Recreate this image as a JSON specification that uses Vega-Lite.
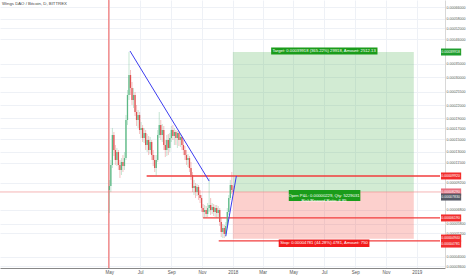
{
"$schema": "https://vega.github.io/schema/vega-lite/v6.json",
"width": 445, "height": 268,
"autosize": {"type": "none"},
"padding": {"left": 0, "top": 0, "right": 21, "bottom": 7},
"background": "white",
"title": {"text": "Wings DAO / Bitcoin, D, BITTREX", "anchor": "start", "frame": "group", "fontSize": 4.3, "fontWeight": "normal", "color": "#444", "offset": -7, "dx": 2, "font": "Liberation Sans"},
"config": {"view": {"stroke": null}, "font": "Liberation Sans"},
"datasets": {
"candles": [
{"date":"2017-05-01","open":8475,"high":9480,"low":6546,"close":8865},
{"date":"2017-05-04","open":8865,"high":11870,"low":8286,"close":11220},
{"date":"2017-05-07","open":11220,"high":17010,"low":10850,"close":15720},
{"date":"2017-05-10","open":15720,"high":16260,"low":12410,"close":13280},
{"date":"2017-05-13","open":13280,"high":14050,"low":11220,"close":11870},
{"date":"2017-05-16","open":11870,"high":13590,"low":11090,"close":12990},
{"date":"2017-05-19","open":12990,"high":13280,"low":10610,"close":11220},
{"date":"2017-05-22","open":11220,"high":11870,"low":9700,"close":10610},
{"date":"2017-05-25","open":10610,"high":12130,"low":10030,"close":11610},
{"date":"2017-05-28","open":11610,"high":12550,"low":10370,"close":11090},
{"date":"2017-05-31","open":11090,"high":12990,"low":10610,"close":12130},
{"date":"2017-06-03","open":12130,"high":19680,"low":11870,"close":18600},
{"date":"2017-06-06","open":18600,"high":26060,"low":17590,"close":24630},
{"date":"2017-06-09","open":24630,"high":39930,"low":23290,"close":30830},
{"date":"2017-06-12","open":30830,"high":32620,"low":24630,"close":26660},
{"date":"2017-06-15","open":26660,"high":28510,"low":22020,"close":23290},
{"date":"2017-06-18","open":23290,"high":26660,"low":21290,"close":24630},
{"date":"2017-06-21","open":24630,"high":25480,"low":19460,"close":20350},
{"date":"2017-06-24","open":20350,"high":22020,"low":17390,"close":18600},
{"date":"2017-06-27","open":18600,"high":20810,"low":17010,"close":19680},
{"date":"2017-06-30","open":19680,"high":20350,"low":15900,"close":16630},
{"date":"2017-07-03","open":16630,"high":18190,"low":15200,"close":17010},
{"date":"2017-07-06","open":17010,"high":17590,"low":14530,"close":15200},
{"date":"2017-07-09","open":15200,"high":17010,"low":14370,"close":16080},
{"date":"2017-07-12","open":16080,"high":16630,"low":13280,"close":14050},
{"date":"2017-07-15","open":14050,"high":15900,"low":12990,"close":14860},
{"date":"2017-07-18","open":14860,"high":15540,"low":12550,"close":13280},
{"date":"2017-07-21","open":13280,"high":15370,"low":12700,"close":14530},
{"date":"2017-07-24","open":14530,"high":14860,"low":11870,"close":12550},
{"date":"2017-07-27","open":12550,"high":13280,"low":11090,"close":11870},
{"date":"2017-07-30","open":11870,"high":12550,"low":10370,"close":10850},
{"date":"2017-08-02","open":10850,"high":12550,"low":9920,"close":11870},
{"date":"2017-08-05","open":11870,"high":16630,"low":11610,"close":15720},
{"date":"2017-08-08","open":15720,"high":20350,"low":15200,"close":17590},
{"date":"2017-08-11","open":17590,"high":18600,"low":14860,"close":15720},
{"date":"2017-08-14","open":15720,"high":17780,"low":14530,"close":16630},
{"date":"2017-08-17","open":16630,"high":17390,"low":13280,"close":14050},
{"date":"2017-08-20","open":14050,"high":14860,"low":12270,"close":13280},
{"date":"2017-08-23","open":13280,"high":15720,"low":12410,"close":14860},
{"date":"2017-08-26","open":14860,"high":15900,"low":12550,"close":13590},
{"date":"2017-08-29","open":13590,"high":16080,"low":12990,"close":15200},
{"date":"2017-09-01","open":15200,"high":17390,"low":14530,"close":16630},
{"date":"2017-09-04","open":16630,"high":17590,"low":14860,"close":15540},
{"date":"2017-09-07","open":15540,"high":17010,"low":14050,"close":16260},
{"date":"2017-09-10","open":16260,"high":16630,"low":14050,"close":15200},
{"date":"2017-09-13","open":15200,"high":16440,"low":13590,"close":16080},
{"date":"2017-09-16","open":16080,"high":16440,"low":13890,"close":14860},
{"date":"2017-09-19","open":14860,"high":15900,"low":13740,"close":15370},
{"date":"2017-09-22","open":15370,"high":15540,"low":13280,"close":14050},
{"date":"2017-09-25","open":14050,"high":14860,"low":12550,"close":13280},
{"date":"2017-09-28","open":13280,"high":13890,"low":11870,"close":12550},
{"date":"2017-10-01","open":12550,"high":13280,"low":11220,"close":11870},
{"date":"2017-10-04","open":11870,"high":12700,"low":10970,"close":12130},
{"date":"2017-10-07","open":12130,"high":12410,"low":10370,"close":10850},
{"date":"2017-10-10","open":10850,"high":11610,"low":9480,"close":10030},
{"date":"2017-10-13","open":10030,"high":10370,"low":8290,"close":8670},
{"date":"2017-10-16","open":8670,"high":9480,"low":8010,"close":8865},
{"date":"2017-10-19","open":8865,"high":9170,"low":7745,"close":8290},
{"date":"2017-10-22","open":8290,"high":9060,"low":7920,"close":8770},
{"date":"2017-10-25","open":8770,"high":8965,"low":7575,"close":8010},
{"date":"2017-10-28","open":8010,"high":8475,"low":7320,"close":7745},
{"date":"2017-10-31","open":7745,"high":8010,"low":6620,"close":6920},
{"date":"2017-11-03","open":6920,"high":7240,"low":6190,"close":6620},
{"date":"2017-11-06","open":6620,"high":7160,"low":6190,"close":6770},
{"date":"2017-11-09","open":6770,"high":7080,"low":6190,"close":6470},
{"date":"2017-11-12","open":6470,"high":7320,"low":6260,"close":6920},
{"date":"2017-11-15","open":6920,"high":9700,"low":6620,"close":7160},
{"date":"2017-11-18","open":7160,"high":7745,"low":6400,"close":6770},
{"date":"2017-11-21","open":6770,"high":7320,"low":6470,"close":7000},
{"date":"2017-11-24","open":7000,"high":7240,"low":6330,"close":6620},
{"date":"2017-11-27","open":6620,"high":7160,"low":6260,"close":6920},
{"date":"2017-11-30","open":6920,"high":7160,"low":6190,"close":6550},
{"date":"2017-12-03","open":6550,"high":7080,"low":6190,"close":6770},
{"date":"2017-12-06","open":6770,"high":6920,"low":5660,"close":5920},
{"date":"2017-12-09","open":5920,"high":6190,"low":5000,"close":5290},
{"date":"2017-12-12","open":5290,"high":5780,"low":4940,"close":5530},
{"date":"2017-12-15","open":5530,"high":5720,"low":4940,"close":5170},
{"date":"2017-12-18","open":5170,"high":5920,"low":5000,"close":5660},
{"date":"2017-12-21","open":5660,"high":6920,"low":5530,"close":6620},
{"date":"2017-12-24","open":6620,"high":8010,"low":6400,"close":7745},
{"date":"2017-12-27","open":7745,"high":9480,"low":7575,"close":8965},
{"date":"2017-12-30","open":8965,"high":10370,"low":8100,"close":8475},
{"date":"2018-01-02","open":8475,"high":8865,"low":8010,"close":8290}
],
"boxes": [
{"kind":"profit","start":"2018-01-01","end":"2018-12-26","top":39918,"bottom":8290},
{"kind":"loss","start":"2018-01-01","end":"2018-12-26","top":8290,"bottom":4900}
],
"levels": [
{"start":"2017-07-14","end":"2019-02-16","price":9920},
{"start":"2017-11-03","end":"2019-02-16","price":6190},
{"start":"2017-12-04","end":"2019-02-16","price":4781}
],
"trend": [
{"id":1,"date":"2017-06-11","price":40380},
{"id":1,"date":"2017-11-15","price":9370},
{"id":2,"date":"2017-12-18","price":5050},
{"id":2,"date":"2018-01-08","price":9920}
],
"labels": [
{"kind":"target","start":"2018-03-18","end":"2018-10-15","mid":"2018-07-01","top":41990,"bottom":38820,"price":40370,"text":"Target: 0.00039918 (365.22%) 29918, Amount: 2512.13"},
{"kind":"open","start":"2018-04-22","end":"2018-09-11","mid":"2018-07-01","top":8475,"bottom":7490,"price":7965,"text":"Open P&L: 0.00000229, Qty: 5229031\nRisk/Reward Ratio: 6.85"},
{"kind":"stop","start":"2018-04-02","end":"2018-09-29","mid":"2018-07-01","top":4857,"bottom":4465,"price":4660,"text":"Stop: 0.00004781 (44.28%) 4781, Amount: 750"}
],
"tags": [
{"kind":"target","price":39918,"label":"0.00039918"},
{"kind":"level","price":9920,"label":"0.00009920"},
{"kind":"last","price":8290,"label":"0.00008290"},
{"kind":"entry","price":7830,"label":"0.00007830"},
{"kind":"level","price":6190,"label":"0.00006190"},
{"kind":"level","price":4940,"label":"0.00004940"},
{"kind":"level","price":4618,"label":"0.00004781"}
]
},
"resolve": {"scale": {"color": "independent"}},
"layer": [
{
"data": {"name": "boxes"},
"mark": {"type": "rect", "opacity": 0.25},
"encoding": {
"x": {"field": "start", "type": "temporal", "title": null,
 "scale": {"type": "utc", "domain": [{"year":2016,"month":10,"date":6,"utc":true},{"year":2019,"month":2,"date":16,"utc":true}]},
 "axis": {"values": [{"year":2017,"month":5,"date":1,"utc":true},{"year":2017,"month":7,"date":1,"utc":true},{"year":2017,"month":9,"date":1,"utc":true},{"year":2017,"month":11,"date":1,"utc":true},{"year":2018,"month":1,"date":1,"utc":true},{"year":2018,"month":3,"date":1,"utc":true},{"year":2018,"month":5,"date":1,"utc":true},{"year":2018,"month":7,"date":1,"utc":true},{"year":2018,"month":9,"date":1,"utc":true},{"year":2018,"month":11,"date":1,"utc":true},{"year":2019,"month":1,"date":1,"utc":true}],
  "labelExpr": "utcmonth(datum.value)==0 ? utcFormat(datum.value,'%Y') : utcFormat(datum.value,'%b')",
  "ticks": false, "labelFontSize": 4.5, "labelColor": "#555", "labelPadding": 1.5, "domainColor": "#888", "domainWidth": 1,
  "grid": true, "gridColor": "#eef1f6", "labelFlush": false, "labelOverlap": false}},
"x2": {"field": "end"},
"y": {"field": "top", "type": "quantitative", "title": null,
 "scale": {"type": "log", "domain": [3529, 71600], "nice": false},
 "axis": {"orient": "right", "values": [66000,58000,52000,46000,35000,30000,25500,22000,19000,17000,15000,13000,11500,9200,6800,5800,5200,4000,3600],
  "labelExpr": "format(datum.value/1e8,'.8f')", "ticks": false, "labelFontSize": 3.6, "labelColor": "#555", "labelPadding": 1,
  "domainColor": "#d8d8d8", "grid": true, "gridColor": "#eef1f6", "labelOverlap": false, "labelFlush": false}},
"y2": {"field": "bottom"},
"color": {"field": "kind", "type": "nominal", "scale": {"domain": ["profit","loss"], "range": ["#4caf50","#f44336"]}, "legend": null}
}
},
{
"data": {"values": [{"price": 8290}]},
"mark": {"type": "rule", "color": "#f08a8a", "strokeWidth": 0.8, "opacity": 0.8},
"encoding": {"y": {"field": "price", "type": "quantitative", "title": null}}
},
{
"data": {"values": [{"date": "2017-04-30"}]},
"mark": {"type": "rule", "color": "#f07272", "strokeWidth": 1.2},
"encoding": {"x": {"field": "date", "type": "temporal", "title": null}}
},
{
"data": {"name": "levels"},
"mark": {"type": "rule", "color": "#f23c3c", "strokeWidth": 1.3},
"encoding": {
"x": {"field": "start", "type": "temporal", "title": null},
"x2": {"field": "end"},
"y": {"field": "price", "type": "quantitative", "title": null}
}
},
{
"data": {"name": "candles"},
"mark": {"type": "rule", "strokeWidth": 0.6, "opacity": 0.6},
"encoding": {
"x": {"field": "date", "type": "temporal", "title": null},
"y": {"field": "low", "type": "quantitative", "title": null},
"y2": {"field": "high"},
"color": {"condition": {"test": "datum.close >= datum.open", "value": "#5cb885"}, "value": "#e05050"}
}
},
{
"data": {"name": "candles"},
"mark": {"type": "bar", "width": 1.3},
"encoding": {
"x": {"field": "date", "type": "temporal", "title": null},
"y": {"field": "open", "type": "quantitative", "title": null},
"y2": {"field": "close"},
"color": {"condition": {"test": "datum.close >= datum.open", "value": "#5cb885"}, "value": "#e05050"}
}
},
{
"data": {"name": "trend"},
"mark": {"type": "line", "color": "#3c3cf0", "strokeWidth": 1},
"encoding": {
"x": {"field": "date", "type": "temporal", "title": null},
"y": {"field": "price", "type": "quantitative", "title": null},
"detail": {"field": "id", "type": "nominal"}
}
},
{
"data": {"name": "labels"},
"mark": {"type": "rect"},
"encoding": {
"x": {"field": "start", "type": "temporal", "title": null},
"x2": {"field": "end"},
"y": {"field": "top", "type": "quantitative", "title": null},
"y2": {"field": "bottom"},
"color": {"field": "kind", "type": "nominal", "scale": {"domain": ["target","open","stop"], "range": ["#1a9c1a","#1a9c1a","#f21b1b"]}, "legend": null}
}
},
{
"data": {"name": "labels"},
"mark": {"type": "text", "color": "white", "fontSize": 4.2, "lineBreak": "\n", "lineHeight": 5, "align": "center", "baseline": "middle"},
"encoding": {
"x": {"field": "mid", "type": "temporal", "title": null},
"y": {"field": "price", "type": "quantitative", "title": null},
"text": {"field": "text"}
}
},
{
"data": {"name": "tags"},
"mark": {"type": "rule", "strokeWidth": 7, "clip": false},
"encoding": {
"x": {"datum": {"year":2019,"month":2,"date":18,"utc":true}, "type": "temporal"},
"x2": {"datum": {"year":2019,"month":3,"date":30,"utc":true}},
"y": {"field": "price", "type": "quantitative", "title": null},
"color": {"field": "kind", "type": "nominal", "scale": {"domain": ["target","level","last","entry"], "range": ["#1e9e2e","#f22c2c","#e8707f","#555a66"]}, "legend": null}
}
},
{
"data": {"name": "tags"},
"mark": {"type": "text", "color": "white", "fontSize": 3.5, "clip": false, "align": "center", "baseline": "middle"},
"encoding": {
"x": {"datum": {"year":2019,"month":3,"date":9,"utc":true}, "type": "temporal"},
"y": {"field": "price", "type": "quantitative", "title": null},
"text": {"field": "label"}
}
}
]
}
